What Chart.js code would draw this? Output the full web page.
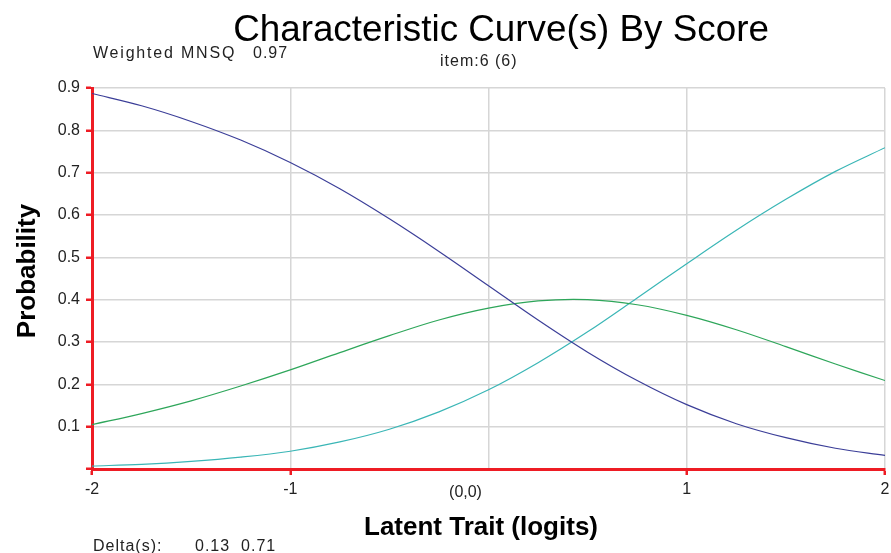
<!DOCTYPE html>
<html>
<head>
<meta charset="utf-8">
<script src="https://cdn.jsdelivr.net/npm/chart.js@4"></script>
<style>
  html, body { margin: 0; padding: 0; background: #fff; }
  #wrap { width: 891px; height: 553px; position: relative; }
</style>
</head>
<body>
<div id="wrap"><canvas id="chart"></canvas></div>
<script>
// --- Données ---
const theta = [-2, -1.75, -1.5, -1.25, -1, -0.75, -0.5, -0.25, 0, 0.25, 0.5, 0.75, 1, 1.25, 1.5, 1.75, 2];
const score0 = [0.887, 0.858, 0.821, 0.777, 0.724, 0.662, 0.591, 0.514, 0.433, 0.352, 0.276, 0.209, 0.152, 0.107, 0.074, 0.049, 0.032];
const score1 = [0.105, 0.131, 0.161, 0.196, 0.234, 0.275, 0.315, 0.352, 0.380, 0.397, 0.400, 0.388, 0.363, 0.329, 0.289, 0.248, 0.209];
const score2 = [0.007, 0.011, 0.018, 0.028, 0.042, 0.064, 0.094, 0.135, 0.187, 0.251, 0.324, 0.404, 0.485, 0.564, 0.637, 0.703, 0.759];
const xTicks = [-2, -1, 0, 1, 2];
const xTickLabels = ['-2', '-1', '(0,0)', '1', '2'];
const yMax = 0.9;

const RED = '#ee1c24';
const GRID = '#d6d6d6';
const FONT = '"Liberation Sans", Arial, sans-serif';

function toPoints(ys) {
    return theta.map((t, i) => ({ x: t, y: ys[i] }));
}

// Textes hors zone de tracé (titre, infos, libellé (0,0))
const textPlugin = {
    id: 'texts',
    afterDraw(chart) {
        const c = chart.ctx;
        const xs = chart.scales.x;
        c.save();
        c.fillStyle = '#000';
        c.textBaseline = 'alphabetic';

        c.font = '36.8px ' + FONT;
        c.textAlign = 'center';
        c.fillText('Characteristic Curve(s) By Score', 501, 41);

        c.fillStyle = '#222';
        c.font = '16px ' + FONT;
        c.letterSpacing = '1.8px';
        c.textAlign = 'left';
        c.fillText('Weighted MNSQ', 93, 58);
        c.letterSpacing = '1px';
        c.fillText('0.97', 253, 58);
        c.fillText('item:6 (6)', 440, 66);
        c.fillText('Delta(s):', 93, 551);
        c.fillText('0.13  0.71', 195, 551);

        // libellé (0,0) décalé à gauche de la grille
        c.letterSpacing = '0px';
        c.font = '16px ' + FONT;
        c.textAlign = 'center';
        c.fillText(xTickLabels[2], xs.getPixelForValue(0) - 23, 497);

        c.fillStyle = '#000';
        c.font = 'bold 26px ' + FONT;
        c.fillText('Latent Trait (logits)', 481, 535);

        c.translate(35, 271);
        c.rotate(-Math.PI / 2);
        c.fillText('Probability', 0, 0);
        c.restore();
    }
};

const line = (data, color) => ({
    data: toPoints(data),
    borderColor: color,
    borderWidth: 1.2,
    pointRadius: 0,
    tension: 0.35,
    fill: false
});

new Chart(document.getElementById('chart'), {
    type: 'line',
    data: {
        datasets: [
            line(score0, '#3b3e98'),
            line(score1, '#2ea65a'),
            line(score2, '#3ab6b6')
        ]
    },
    options: {
        responsive: true,
        maintainAspectRatio: false,
        animation: false,
        layout: { padding: { top: 88, right: 6, left: 0, bottom: 0 } },
        plugins: { legend: { display: false }, tooltip: { enabled: false }, title: { display: false } },
        scales: {
            x: {
                type: 'linear',
                min: -2, max: 2,
                afterBuildTicks: s => { s.ticks = xTicks.map(v => ({ value: v })); },
                afterFit: s => { s.height = 84; s.paddingLeft = 0; s.paddingRight = 0; },
                ticks: {
                    callback: (v) => v === 0 ? '' : xTickLabels[xTicks.indexOf(v)],
                    color: '#222',
                    font: { family: FONT, size: 16 },
                    maxRotation: 0,
                    padding: 5
                },
                grid: {
                    color: GRID,
                    lineWidth: 1.5,
                    tickLength: 6,
                    tickColor: ctx => ctx.tick && ctx.tick.value === 0 ? 'rgba(0,0,0,0)' : RED,
                    tickWidth: 2.5
                },
                border: { color: RED, width: 3 }
            },
            y: {
                min: 0, max: yMax,
                afterFit: s => { s.width = 92; s.paddingTop = 0; s.paddingBottom = 0; },
                ticks: {
                    stepSize: 0.1,
                    callback: v => v < 0.05 ? '' : v.toFixed(1),
                    color: '#222',
                    font: { family: FONT, size: 16 },
                    padding: 6
                },
                grid: {
                    color: GRID,
                    lineWidth: 1.5,
                    tickLength: 6,
                    tickColor: RED,
                    tickWidth: 2.5
                },
                border: { color: RED, width: 3 }
            }
        }
    },
    plugins: [textPlugin]
});
</script>
</body>
</html>
